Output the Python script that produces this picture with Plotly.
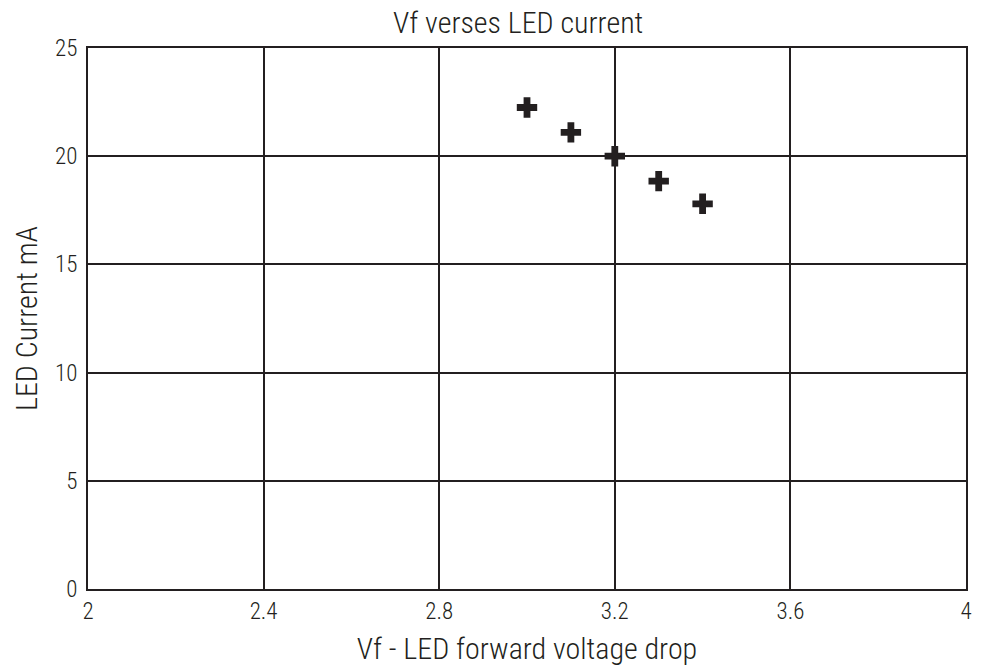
import plotly.graph_objects as go

vf = [3.0, 3.1, 3.2, 3.3, 3.4]
current_ma = [22.25, 21.1, 20.0, 18.85, 17.8]
x_ticks = [2, 2.4, 2.8, 3.2, 3.6, 4]
x_tick_text = ["2", "2.4", "2.8", "3.2", "3.6", "4"]
y_ticks = [0, 5, 10, 15, 20, 25]

INK = "#231f20"
FONT = "Roboto Condensed, Liberation Sans Narrow, sans-serif"
TICK = dict(family=FONT, size=23, color=INK, weight=300)
TITLE = dict(family=FONT, size=30, color=INK, weight=300)

fig = go.Figure()
fig.add_trace(go.Scatter(
    x=vf, y=current_ma, mode="markers",
    marker=dict(symbol="cross", size=17, color=INK, line=dict(width=0)),
    showlegend=False, hoverinfo="skip",
))

fig.update_layout(
    width=981, height=669, autosize=False,
    margin=dict(l=88, r=9, t=48, b=80),
    paper_bgcolor="white", plot_bgcolor="white",
    font=dict(family=FONT, color=INK, size=23, weight=300),
    title=dict(text="Vf verses LED current", xref="paper", x=0.49, xanchor="center",
               y=0.967, yanchor="middle", font=TITLE),
    xaxis=dict(range=[2, 4], tickvals=x_ticks, ticktext=x_tick_text,
               showgrid=True, gridcolor=INK, gridwidth=2,
               showline=True, linecolor=INK, linewidth=2, mirror=True,
               zeroline=False, ticks="", ticklen=0, tickfont=TICK,
               title=dict(text="Vf - LED forward voltage drop",
                          font=TITLE, standoff=14)),
    yaxis=dict(range=[0, 25], tickvals=y_ticks,
               showgrid=True, gridcolor=INK, gridwidth=2,
               showline=True, linecolor=INK, linewidth=2, mirror=True,
               zeroline=False, ticks="", ticklen=0, tickfont=TICK,
               ticklabelstandoff=4,
               title=dict(text="LED Current mA", font=TITLE, standoff=9)),
)

fig.write_html("out.html", config={"displayModeBar": False, "responsive": False},
               post_script="document.body.style.margin='0';"
                           "document.body.style.overflow='hidden';"
                           "document.documentElement.style.overflow='hidden';")
